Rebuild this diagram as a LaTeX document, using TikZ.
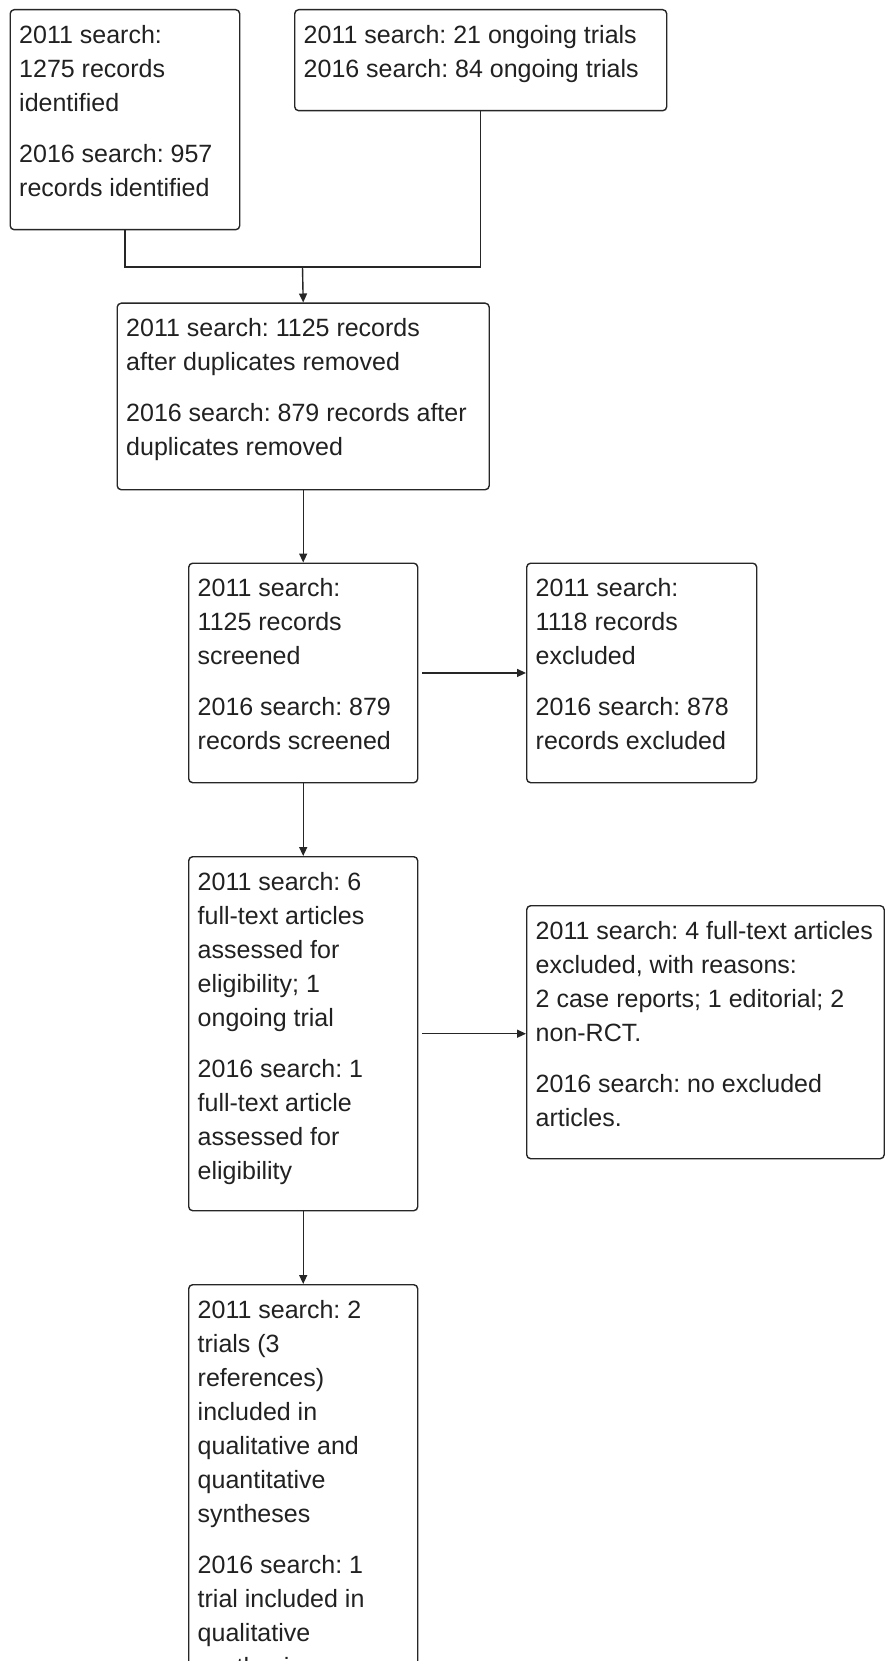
\documentclass[tikz,border=0pt]{standalone}
\usepackage{fontspec}
\setmainfont{Liberation Sans}
\usetikzlibrary{arrows.meta}
\newcommand{\fl}{\rule{0pt}{24pt}}
\frenchspacing
\tikzset{
  box/.style={draw=black!85, line width=1.4pt, rounded corners=4pt, anchor=north west, inner sep=0pt},
  txt/.style={anchor=north west, inner sep=0pt, text=black!87, font=\fontsize{25}{34}\selectfont},
  conn/.style={draw=black!85, line width=1.4pt},
  arr/.style={conn, -{Triangle[length=9pt,width=8pt]}},
}
\begin{document}
\begin{tikzpicture}[x=1pt,y=-1pt]
\useasboundingbox (0,0) rectangle (885,1661);
\fill[white] (0,0) rectangle (885,1661);
\clip (0,0) rectangle (885,1661);
% boxes
\node[box, minimum width=229.5pt, minimum height=220pt] (b1) at (9.5,9) {};
\node[box, minimum width=372pt, minimum height=101pt] (b2) at (294,9) {};
\node[box, minimum width=372pt, minimum height=186.5pt] (b3) at (116.5,302.5) {};
\node[box, minimum width=229pt, minimum height=219.5pt] (b4) at (188,562.5) {};
\node[box, minimum width=230pt, minimum height=219.5pt] (b5) at (526,562.5) {};
\node[box, minimum width=229pt, minimum height=354pt] (b6) at (188,856) {};
\node[box, minimum width=357.5pt, minimum height=253pt] (b7) at (526,905) {};
\node[box, minimum width=229pt, minimum height=500pt] (b8) at (188,1284) {};
% texts
\node[txt] (t1) at ([xshift=9.5pt,yshift=-10pt]b1.north west) {\parbox[t]{400pt}{\fl 2011 search:\\1275 records\\identified\\[17pt]2016 search: 957\\records identified}};
\node[txt] (t2) at ([xshift=9.5pt,yshift=-10pt]b2.north west) {\parbox[t]{400pt}{\fl 2011 search: 21 ongoing trials\\2016 search: 84 ongoing trials}};
\node[txt] (t3) at ([xshift=9.5pt,yshift=-10pt]b3.north west) {\parbox[t]{400pt}{\fl 2011 search: 1125 records\\after duplicates removed\\[17pt]2016 search: 879 records after\\duplicates removed}};
\node[txt] (t4) at ([xshift=9.5pt,yshift=-10pt]b4.north west) {\parbox[t]{400pt}{\fl 2011 search:\\1125 records\\screened\\[17pt]2016 search: 879\\records screened}};
\node[txt] (t5) at ([xshift=9.5pt,yshift=-10pt]b5.north west) {\parbox[t]{400pt}{\fl 2011 search:\\1118 records\\excluded\\[17pt]2016 search: 878\\records excluded}};
\node[txt] (t6) at ([xshift=9.5pt,yshift=-10pt]b6.north west) {\parbox[t]{400pt}{\fl 2011 search: 6\\full-text articles\\assessed for\\eligibility; 1\\ongoing trial\\[17pt]2016 search: 1\\full-text article\\assessed for\\eligibility}};
\node[txt] (t7) at ([xshift=9.5pt,yshift=-10pt]b7.north west) {\parbox[t]{400pt}{\fl 2011 search: 4 full-text articles\\excluded, with reasons:\\2 case reports; 1 editorial; 2\\non-RCT.\\[17pt]2016 search: no excluded\\articles.}};
\node[txt] (t8) at ([xshift=9.5pt,yshift=-10pt]b8.north west) {\parbox[t]{400pt}{\fl 2011 search: 2\\trials (3\\references)\\included in\\qualitative and\\quantitative\\syntheses\\[17pt]2016 search: 1\\trial included in\\qualitative\\synthesis}};
% connectors
\coordinate (j) at (302.5,267);
\draw[conn] (b1.south) |- (j) -| (b2.south);
\draw[arr] (j) -- (b3.north);
\draw[arr] (b3.south) -- (b4.north);
\draw[arr] ([xshift=4pt]b4.east) -- (b5.west);
\draw[arr] (b4.south) -- (b6.north);
\draw[arr] ([xshift=4pt]b6.east) -- (b6.east -| b7.west);
\draw[arr] (b6.south) -- (b8.north);
\end{tikzpicture}
\end{document}
